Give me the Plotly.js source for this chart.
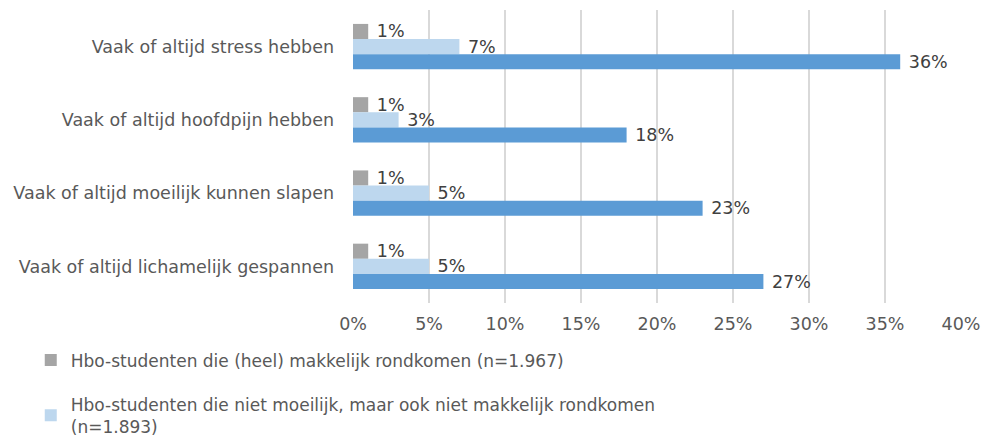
<!DOCTYPE html>
<html>
<head>
<meta charset="utf-8">
<script src="https://cdn.plot.ly/plotly-3.0.1.min.js"></script>
<style>html,body{margin:0;padding:0;background:#fff;}#chart{width:983px;height:443px;}</style>
</head>
<body>
<div id="chart"></div>
<script>
const categories = [
  "Vaak of altijd stress hebben",
  "Vaak of altijd hoofdpijn hebben",
  "Vaak of altijd moeilijk kunnen slapen",
  "Vaak of altijd lichamelijk gespannen"
];
const seriesNames = [
  "Hbo-studenten die (heel) makkelijk rondkomen (n=1.967)",
  "Hbo-studenten die niet moeilijk, maar ook niet makkelijk rondkomen<br>(n=1.893)",
  "Hbo-studenten die (heel) moeilijk rondkomen"
];
const easyValues = [1, 1, 1, 1];
const neutralValues = [7, 3, 5, 5];
const hardValues = [36, 18, 23, 27];
const tickValues = [0, 5, 10, 15, 20, 25, 30, 35, 40];
const tickLabels = ["0%", "5%", "10%", "15%", "20%", "25%", "30%", "35%", "40%"];

const FONT = "'DejaVu Sans', sans-serif";
const FS = 17.5;
const colors = ["#a5a5a5", "#bdd7ee", "#5b9bd5"];
const allValues = [easyValues, neutralValues, hardValues];

const traces = allValues.map((vals, i) => ({
  type: "bar",
  orientation: "h",
  name: seriesNames[i],
  y: categories,
  x: vals,
  text: vals.map(v => "\u00a0" + v + "%"),
  textposition: "outside",
  constraintext: "none",
  cliponaxis: false,
  textfont: {family: FONT, size: FS, color: "#404040"},
  marker: {color: colors[i]},
  legendgroup: "g" + i,
  showlegend: i < 2,
  hoverinfo: "x+y"
}));

const layout = {
  width: 983,
  height: 443,
  margin: {l: 353, r: 22, t: 10, b: 140, autoexpand: false},
  paper_bgcolor: "#ffffff",
  plot_bgcolor: "#ffffff",
  font: {family: FONT, size: FS, color: "#595959"},
  barmode: "group",
  bargap: 0.38,
  bargroupgap: 0,
  xaxis: {
    range: [0, 40],
    tickvals: tickValues,
    ticktext: tickLabels,
    showgrid: true,
    gridcolor: "#d9d9d9",
    gridwidth: 2,
    zeroline: false,
    showline: false,
    ticks: "",
    ticklabelstandoff: 8,
    automargin: false,
    tickfont: {family: FONT, size: FS, color: "#595959"}
  },
  yaxis: {
    autorange: "reversed",
    showgrid: false,
    zeroline: false,
    showline: false,
    ticks: "",
    ticklabelstandoff: 18,
    automargin: false,
    tickfont: {family: FONT, size: FS, color: "#595959"}
  },
  showlegend: true,
  legend: {
    orientation: "v",
    x: -0.53,
    xanchor: "left",
    y: -0.135,
    yanchor: "top",
    tracegroupgap: 19,
    font: {family: FONT, size: 17, color: "#595959"},
    bgcolor: "rgba(0,0,0,0)"
  }
};

Plotly.newPlot("chart", traces, layout, {displayModeBar: false, staticPlot: true});
</script>
</body>
</html>
